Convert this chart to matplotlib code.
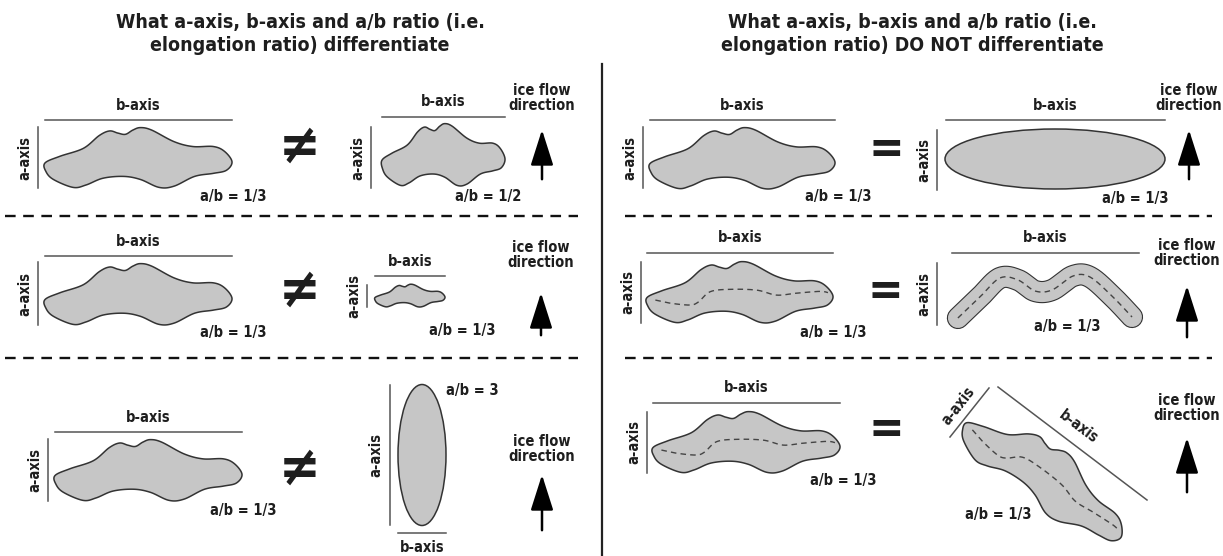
import numpy as np
import matplotlib
matplotlib.use("Agg")
import matplotlib.pyplot as plt
from matplotlib.patches import Polygon, Ellipse

plt.rcParams['font.family'] = ['DejaVu Sans']
plt.rcParams['font.stretch'] = 'condensed'
plt.rcParams['font.weight'] = 'bold'

# clast outline, normalised to its box (x along b-axis, y along a-axis, y down)
BLOB_X = [0.00, 0.08, 0.205, 0.29, 0.345, 0.39, 0.43, 0.47, 0.51, 0.57, 0.69, 0.79,
          0.90, 0.96, 1.00, 0.97, 0.90, 0.80, 0.69, 0.61, 0.51, 0.42, 0.31, 0.22,
          0.15, 0.045, 0.005]
BLOB_Y = [0.59, 0.48, 0.35, 0.14, 0.065, 0.10, 0.12, 0.05, 0.01, 0.05, 0.24, 0.32,
          0.32, 0.40, 0.57, 0.71, 0.76, 0.81, 0.97, 0.99, 0.86, 0.81, 0.84, 0.95,
          0.99, 0.86, 0.73]
# dashed mid-line inside the clast
MID_X = [0.045, 0.125, 0.23, 0.277, 0.34, 0.446, 0.59, 0.696, 0.80, 0.929, 0.973]
MID_Y = [0.63, 0.68, 0.71, 0.66, 0.495, 0.457, 0.47, 0.55, 0.52, 0.49, 0.51]
# bent (M-shaped) clast centre line
BENT_X = [0.032, 0.151, 0.259, 0.357, 0.449, 0.541, 0.654, 0.746, 0.870, 0.973]
BENT_Y = [0.887, 0.548, 0.242, 0.274, 0.452, 0.435, 0.210, 0.226, 0.548, 0.871]

TITLES = ["What a-axis, b-axis and a/b ratio (i.e.\nelongation ratio) differentiate",
          "What a-axis, b-axis and a/b ratio (i.e.\nelongation ratio) DO NOT differentiate"]
RATIOS = ["a/b = 1/3", "a/b = 1/2", "a/b = 3"]
FLOW = "ice flow\ndirection"

FILL = '#c6c6c6'
EDGE = '#333333'
AX_C = '#555555'
TXT = '#1e1e1e'


def spline(xs, ys, closed=True, n=16):
    p = np.column_stack([xs, ys]).astype(float)
    if closed:
        P = np.vstack([p[-1], p, p[0], p[1]])
        segs = len(p)
    else:
        P = np.vstack([p[0], p, p[-1]])
        segs = len(p) - 1
    t = np.linspace(0, 1, n, endpoint=False)[:, None]
    out = []
    for i in range(1, segs + 1):
        p0, p1, p2, p3 = P[i - 1], P[i], P[i + 1], P[i + 2]
        out.append(0.5 * (2 * p1 + (-p0 + p2) * t + (2 * p0 - 5 * p1 + 4 * p2 - p3) * t ** 2
                          + (-p0 + 3 * p1 - 3 * p2 + p3) * t ** 3))
    if not closed:
        out.append(p[-1][None, :])
    return np.vstack(out)


def place(pts, cx, cy, w, h, ang=0):
    x = (pts[:, 0] - 0.5) * w
    y = (pts[:, 1] - 0.5) * h
    a = np.radians(ang)
    return np.column_stack([cx + x * np.cos(a) - y * np.sin(a),
                            cy + x * np.sin(a) + y * np.cos(a)])


def clast(ax, cx, cy, w, h, ang=0, mid=False):
    pts = place(spline(BLOB_X, BLOB_Y), cx, cy, w, h, ang)
    ax.add_patch(Polygon(pts, closed=True, fc=FILL, ec=EDGE, lw=1.1, zorder=3))
    if mid:
        m = place(spline(MID_X, MID_Y, closed=False), cx, cy, w, h, ang)
        ax.plot(m[:, 0], m[:, 1], color='#444444', lw=1.0, ls=(0, (4, 3)), zorder=4)


def txt(ax, x, y, s, size=10.5, rot=0, ls=1.0):
    ax.text(x, y, s, ha='center', va='center', fontsize=size, color=TXT,
            rotation=rot, linespacing=ls, zorder=5)


def axes_marks(ax, bx0, bx1, by, ay0, ay1, ax_x):
    ax.plot([bx0, bx1], [by, by], color=AX_C, lw=1.1)
    ax.plot([ax_x, ax_x], [ay0, ay1], color=AX_C, lw=1.1)
    txt(ax, (bx0 + bx1) / 2, by - 15, "b-axis")
    txt(ax, ax_x - 13, (ay0 + ay1) / 2, "a-axis", rot=90)


def flow(ax, x, ty, y0, y1):
    txt(ax, x, ty, FLOW, ls=1.05)
    ax.annotate('', xy=(x, y0), xytext=(x, y1),
                arrowprops=dict(arrowstyle='-|>,head_length=1.1,head_width=0.35',
                                lw=1.8, color='black', mutation_scale=20))


fig = plt.figure(figsize=(12.23, 5.56), dpi=100)
ax = fig.add_axes([0, 0, 1, 1])
ax.set_xlim(0, 1223)
ax.set_ylim(556, 0)
ax.axis('off')

txt(ax, 300, 34, TITLES[0], size=14, ls=1.3)
txt(ax, 912, 34, TITLES[1], size=14, ls=1.3)
ax.plot([602, 602], [64, 556], color='#222222', lw=1.6)
for y in [216, 358]:
    ax.plot([5, 578], [y, y], color='#111111', lw=1.7, ls=(0, (4.5, 3.2)))
    ax.plot([625, 1212], [y, y], color='#111111', lw=1.7, ls=(0, (4.5, 3.2)))

# ---- left panel
# row 1
axes_marks(ax, 45, 232, 120, 127, 188, 38)
clast(ax, 138.5, 157.5, 187, 61)
txt(ax, 233, 197, RATIOS[0])
txt(ax, 300, 148, "≠", size=40)
axes_marks(ax, 382, 505, 117, 127, 188, 371)
clast(ax, 443.5, 154.5, 123, 63)
txt(ax, 488, 197, RATIOS[1])
flow(ax, 542, 98, 127, 182)
# row 2
axes_marks(ax, 45, 232, 256, 262, 325, 38)
clast(ax, 138.5, 294, 187, 62)
txt(ax, 233, 332, RATIOS[0])
txt(ax, 300, 292, "≠", size=40)
axes_marks(ax, 375, 445, 276, 285, 307, 367)
clast(ax, 410, 295.5, 70, 23)
txt(ax, 462, 330, RATIOS[0])
flow(ax, 541, 255, 290, 338)
# row 3
axes_marks(ax, 55, 242, 432, 439, 501, 48)
clast(ax, 148.5, 470, 187, 62)
txt(ax, 243, 510, RATIOS[0])
txt(ax, 300, 470, "≠", size=40)
ax.add_patch(Ellipse((422, 455), 48, 141, fc=FILL, ec=EDGE, lw=1.1, zorder=3))
ax.plot([390, 390], [385, 525], color=AX_C, lw=1.1)
txt(ax, 376, 455, "a-axis", rot=90)
ax.plot([398, 446], [533, 533], color=AX_C, lw=1.1)
txt(ax, 422, 547, "b-axis")
txt(ax, 472, 391, RATIOS[2])
flow(ax, 542, 449, 472, 533)

# ---- right panel
# row 1
axes_marks(ax, 650, 835, 120, 127, 188, 643)
clast(ax, 742.5, 158, 185, 62)
txt(ax, 838, 197, RATIOS[0])
txt(ax, 886, 150, "=", size=34)
axes_marks(ax, 946, 1165, 120, 130, 190, 937)
ax.add_patch(Ellipse((1055, 159), 220, 60, fc=FILL, ec=EDGE, lw=1.1, zorder=3))
txt(ax, 1135, 198, RATIOS[0])
flow(ax, 1189, 98, 127, 182)
# row 2
axes_marks(ax, 647, 833, 253, 262, 323, 641)
clast(ax, 740, 292, 186, 62, mid=True)
txt(ax, 833, 332, RATIOS[0])
txt(ax, 885, 293, "=", size=34)
axes_marks(ax, 952, 1139, 253, 263, 325, 937)
bent = spline(BENT_X, BENT_Y, closed=False)
bx = 952 + bent[:, 0] * 185
by = 263 + bent[:, 1] * 62
ax.plot(bx, by, color=EDGE, lw=16, solid_capstyle='round', solid_joinstyle='round', zorder=3)
ax.plot(bx, by, color=FILL, lw=14.4, solid_capstyle='round', solid_joinstyle='round', zorder=3)
ax.plot(bx, by, color='#444444', lw=1.0, ls=(0, (4, 3)), zorder=4)
txt(ax, 1067, 326, RATIOS[0])
flow(ax, 1187, 253, 283, 340)
# row 3
axes_marks(ax, 653, 840, 403, 412, 473, 647)
clast(ax, 746.5, 442, 187, 62, mid=True)
txt(ax, 843, 480, RATIOS[0])
txt(ax, 886, 430, "=", size=34)
clast(ax, 1047, 476, 192, 62, ang=37, mid=True)
ax.plot([998, 1147], [387, 500], color=AX_C, lw=1.1)
ax.plot([950, 989], [437, 388], color=AX_C, lw=1.1)
txt(ax, 958, 406, "a-axis", rot=52)
txt(ax, 1078, 427, "b-axis", rot=-37)
txt(ax, 998, 515, RATIOS[0])
flow(ax, 1187, 408, 435, 495)

fig.savefig("out.png", dpi=100)
